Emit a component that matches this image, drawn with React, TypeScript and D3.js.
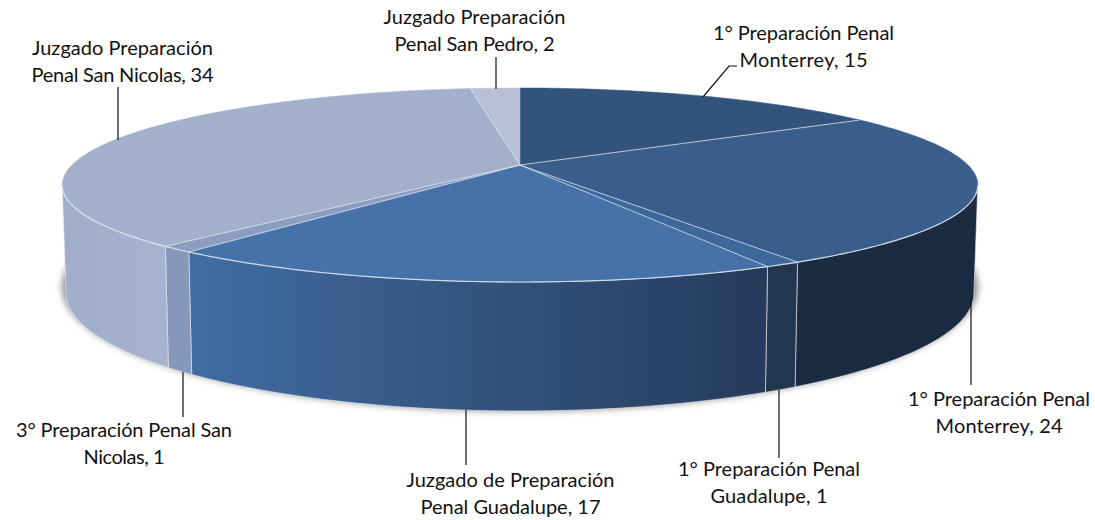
import React from "react";
import * as d3 from "d3";

const names = [
  ["1° Preparación Penal", "Monterrey, 15"],
  ["1° Preparación Penal", "Monterrey, 24"],
  ["1° Preparación Penal", "Guadalupe, 1"],
  ["Juzgado de Preparación", "Penal Guadalupe, 17"],
  ["3° Preparación Penal San", "Nicolas, 1"],
  ["Juzgado Preparación", "Penal San Nicolas, 34"],
  ["Juzgado Preparación", "Penal San Pedro, 2"],
];
const values = [15, 24, 1, 17, 1, 34, 2];
const topColors = ["#31537c", "#3a5e8b", "#3e689b", "#4572a9", "#8b9dc0", "#a2b0cb", "#b7c0d6"];
const wallFrom = ["#1a2b42", "#1a2b42", "#22364f", "#416da3", "#8598bb", "#a0aecb", "#b7c0d6"];
const wallTo = ["#1a2b42", "#1a2b42", "#22364f", "#263b5b", "#8598bb", "#a6b3ce", "#b7c0d6"];

const labelPos = [
  { x: 803.5, y: [40, 67], w: [181, 128] },
  { x: 999, y: [406, 433], w: [182, 127] },
  { x: 769, y: [476, 503], w: [182, 117] },
  { x: 510.5, y: [487, 514], w: [208, 180] },
  { x: 124, y: [437, 464], w: [216, 81] },
  { x: 122.5, y: [55, 82], w: [181, 182] },
  { x: 474.5, y: [24, 51], w: [182, 160] },
];
const leaders = [
  [[703, 97], [729, 66], [737, 66]],
  [[971, 298], [971, 385]],
  [[779, 390], [779, 458]],
  [[466, 410], [466, 465]],
  [[183, 372], [183, 417]],
  [[118, 140], [118, 87]],
  [[496, 57], [496, 89]],
];

const CX = 520, CY = 165, C = 448, A = 58.9, K = -0.206;
const BOT = { cy: 293, rx: 454, ry: 118 };

const project = (a: number): [number, number] => {
  const u = Math.sin(a), v = -Math.cos(a), w = 1 + K * v;
  return [CX + (C * u) / w, (A * v + CY) / w];
};
const projectBottom = (a: number): [number, number] => {
  const x = CX + (project(a)[0] - CX) * (BOT.rx / 458);
  const t = Math.min(1, Math.abs(x - CX) / BOT.rx);
  return [x, BOT.cy + BOT.ry * Math.sqrt(1 - t * t)];
};
const sample = (a0: number, a1: number, n = 60) =>
  d3.range(n + 1).map((i) => a0 + ((a1 - a0) * i) / n);

const line = d3.line<[number, number]>();
const arcs = d3.pie<number>().sort(null).startAngle(0).endAngle(2 * Math.PI)(values);

const WALL_L = Math.acos(K);
const WALL_R = 2 * Math.PI - WALL_L;

export default function App() {
  const shadowPts = sample(0, 2 * Math.PI, 120).map((a) => {
    const [x, y] = [CX + (BOT.rx + 4) * Math.sin(a), BOT.cy - 6 + (BOT.ry + 6) * Math.cos(a)];
    return [x, y] as [number, number];
  });
  const edge = "#e3e8f0";
  return (
    <svg width={1095} height={520} style={{ position: "absolute", left: 0, top: 0, background: "#fff" }}>
      <defs>
        <filter id="sh" x="-5%" y="-10%" width="110%" height="120%">
          <feGaussianBlur stdDeviation="3.5" />
        </filter>
        {arcs.map((d, i) => {
          const a0 = Math.max(d.startAngle, WALL_L);
          const a1 = Math.min(d.endAngle, WALL_R);
          if (a1 <= a0) return null;
          return (
            <linearGradient key={i} id={`w${i}`} gradientUnits="userSpaceOnUse"
              x1={project(a1)[0]} x2={project(a0)[0]} y1={0} y2={0}>
              <stop offset="0" stopColor={wallFrom[i]} />
              <stop offset="1" stopColor={wallTo[i]} />
            </linearGradient>
          );
        })}
      </defs>
      <path d={line(shadowPts) + "Z"} fill="#8a8a8a" filter="url(#sh)" />
      {arcs.map((d, i) => {
        const a0 = Math.max(d.startAngle, WALL_L);
        const a1 = Math.min(d.endAngle, WALL_R);
        if (a1 <= a0) return null;
        const as = sample(a0, a1);
        const pts = [...as.map(project), ...as.slice().reverse().map(projectBottom)];
        return (
          <path key={i} d={line(pts) + "Z"} fill={`url(#w${i})`} stroke={edge} strokeWidth={1}
            strokeOpacity={0.65} />
        );
      })}
      {arcs.map((d, i) => {
        const pts = [[CX, CY] as [number, number], ...sample(d.startAngle, d.endAngle).map(project)];
        return <path key={i} d={line(pts) + "Z"} fill={topColors[i]} stroke={topColors[i]} strokeWidth={0.5} />;
      })}
      {arcs.map((d, i) => (
        <path key={i} d={line([[CX, CY], project(d.startAngle)]) as string} fill="none" stroke={edge}
          strokeWidth={1} strokeOpacity={i === 0 ? 0 : 0.75} />
      ))}
      <path d={line(sample(WALL_L, WALL_R, 200).map(project)) as string} fill="none" stroke={edge}
        strokeWidth={1.2} strokeOpacity={0.85} />
      {leaders.map((l, i) => (
        <path key={i} d={line(l as [number, number][]) as string} fill="none" stroke="#111" strokeWidth={1.2} />
      ))}
      {names.map((lines, i) =>
        lines.map((t, j) => (
          <text key={`${i}-${j}`} x={labelPos[i].x} y={labelPos[i].y[j]} textAnchor="middle"
            textLength={labelPos[i].w[j]} lengthAdjust="spacing"
            fontFamily="Lato, 'Open Sans', sans-serif" fontSize={20} fill="#111">
            {t}
          </text>
        ))
      )}
    </svg>
  );
}
